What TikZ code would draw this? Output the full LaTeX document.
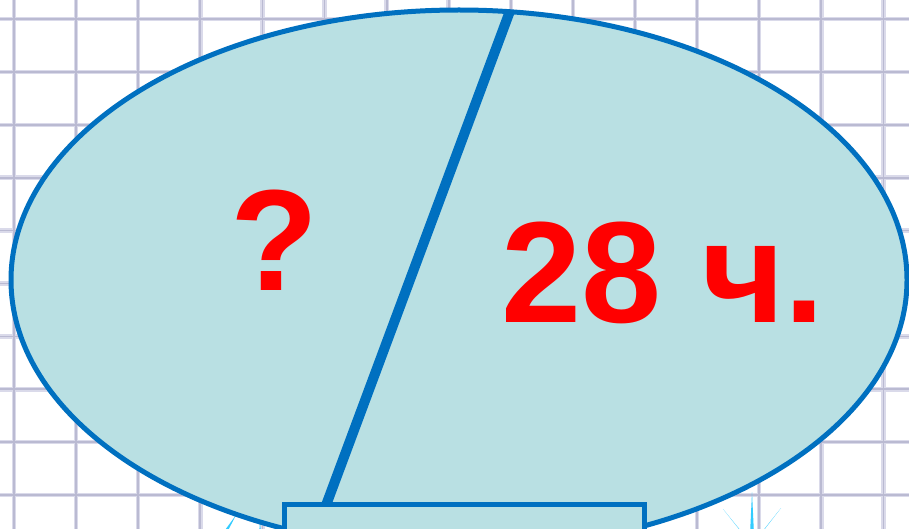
\documentclass[tikz,border=0pt]{standalone}
\usepackage{fontspec}
\setmainfont{Liberation Sans}
\usetikzlibrary{shapes.geometric}
\definecolor{gridsoft}{RGB}{218,218,234}
\definecolor{gridc}{RGB}{186,186,210}
\definecolor{edgeblue}{RGB}{0,112,192}
\definecolor{tealfill}{RGB}{185,224,227}
\definecolor{spark}{RGB}{51,204,255}
\definecolor{txtred}{RGB}{255,0,0}
\begin{document}
\begin{tikzpicture}[x=1pt,y=-1pt,
  gridhalo/.style={draw=gridsoft,line width=4.5pt},
  gridline/.style={draw=gridc,line width=1.8pt},
  oval/.style={ellipse,draw=edgeblue,fill=tealfill,line width=5pt,inner sep=0pt},
  plate/.style={rectangle,draw=edgeblue,fill=tealfill,line width=5pt,inner sep=0pt},
  divider/.style={draw=edgeblue,line width=10pt},
  bigtext/.style={text=txtred,inner sep=0pt,anchor=base,font=\fontsize{144}{144}\selectfont\bfseries}]
\useasboundingbox (0,0) rectangle (909,529);
\begin{scope}
\clip (0,0) rectangle (909,529);
\fill[white] (0,0) rectangle (909,529);
% grid
\foreach \i in {0,...,14} \draw[gridhalo] ({14+62.1*\i},0) -- ({14+62.1*\i},529);
\foreach \j in {0,...,9} \draw[gridhalo] (0,{19+52.9*\j}) -- (909,{19+52.9*\j});
\foreach \i in {0,...,14} \draw[gridline] ({14+62.1*\i},0) -- ({14+62.1*\i},529);
\foreach \j in {0,...,9} \draw[gridline] (0,{19+52.9*\j}) -- (909,{19+52.9*\j});
% sparkles
\fill[spark] (752,492) -- (749.5,545) -- (754.5,545) -- cycle;
\fill[spark] (723,509) -- (750,543) -- (754,547) -- cycle;
\fill[spark] (781,508) -- (750,547) -- (754,543) -- cycle;
\fill[spark] (236,515) -- (212,548) -- (217,552) -- cycle;
\fill[spark] (260,520) -- (257.5,560) -- (262.5,560) -- cycle;
% ellipse
\node[oval,minimum width=896pt,minimum height=540pt] (ov) at (459,280) {};
% divider
\coordinate (dtop) at (510,11);
\coordinate (dbot) at (325,508);
\draw[divider] (dtop) -- (dbot);
% plate
\node[plate,minimum width=360pt,minimum height=80pt] (pl) at (464.5,544.5) {};
% texts
\node[bigtext] (q) at (274,290) {?};
\node[bigtext] (ans) at (663,322) {28 ч.};
\end{scope}
\end{tikzpicture}
\end{document}
